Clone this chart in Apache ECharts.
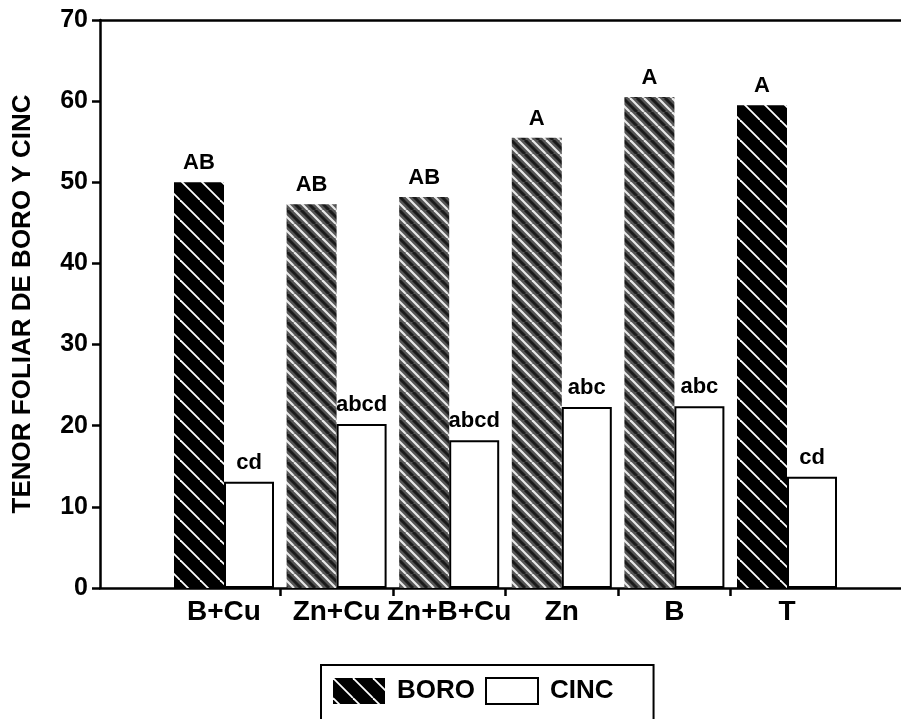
<!DOCTYPE html>
<html>
<head>
<meta charset="utf-8">
<script src="https://cdn.jsdelivr.net/npm/echarts@6/dist/echarts.min.js"></script>
<style>
  html, body { margin: 0; padding: 0; background: #fff; }
  #chart { width: 901px; height: 719px; }
</style>
</head>
<body>
<div id="chart"></div>
<script>
// ---- data ----
const categories   = ['B+Cu', 'Zn+Cu', 'Zn+B+Cu', 'Zn', 'B', 'T'];
const boro         = [50.0, 47.3, 48.2, 55.5, 60.5, 59.5];
const cinc         = [13.1, 20.2, 18.2, 22.3, 22.4, 13.7];
const boroLetters  = ['AB', 'AB', 'AB', 'A', 'A', 'A'];
const cincLetters  = ['cd', 'abcd', 'abcd', 'abc', 'abc', 'cd'];
const yMin = 0, yMax = 70, yStep = 10;
const seriesNames  = ['BORO', 'CINC'];

// ---- styling helpers ----
const FONT = '"Liberation Sans", Arial, sans-serif';
function hatch(bg, lines, p) {
  const c = document.createElement('canvas');
  c.width = p; c.height = p;
  const g = c.getContext('2d');
  g.fillStyle = bg; g.fillRect(0, 0, p, p);
  lines.forEach(function (l) {
    g.strokeStyle = l.color; g.lineWidth = l.width;
    [-p, 0, p].forEach(function (k) {
      g.beginPath();
      g.moveTo(k + l.off, 0);
      g.lineTo(k + l.off + p, p);
      g.stroke();
    });
  });
  return { image: c, repeat: 'repeat' };
}
const blackHatch = hatch('#000', [{ color: '#fff', width: 1.8, off: 0 }], 20);
const grayHatch  = hatch('#555555', [
  { color: '#e8e8e8', width: 2.2, off: 0 },
  { color: '#1a1a1a', width: 3, off: 7 }
], 14);
const grayBars = new Set([1, 2, 3, 4]);

const chart = echarts.init(document.getElementById('chart'), null, { renderer: 'canvas' });

// Band geometry of the bar grid (pixels)
const barLeft = 167.7, bandW = 112.6;
const frameLeft = 100, frameRight = 901;

const option = {
  backgroundColor: '#fff',
  animation: false,
  textStyle: { fontFamily: FONT },
  grid: [
    { left: frameLeft, right: 901 - frameRight, top: 20, bottom: 131 },
    { left: barLeft, right: 901 - (barLeft + bandW * categories.length), top: 20, bottom: 131 }
  ],
  xAxis: [
    { // frame bottom axis with tick marks between groups
      gridIndex: 0, type: 'value',
      min: (frameLeft - barLeft) / bandW,
      max: (frameRight - barLeft) / bandW,
      position: 'bottom',
      axisLine: { show: true, onZero: false, lineStyle: { color: '#000', width: 2.5 } },
      axisTick: { show: true, inside: false, length: 8, lineStyle: { color: '#000', width: 2.5 },
                  customValues: categories.slice(1).map(function (_, i) { return i + 1; }) },
      axisLabel: { show: false },
      splitLine: { show: false }
    },
    { // frame top line
      gridIndex: 0, type: 'value',
      min: 0, max: 1, position: 'top',
      axisLine: { show: true, onZero: false, lineStyle: { color: '#000', width: 2.5 } },
      axisTick: { show: false }, axisLabel: { show: false }, splitLine: { show: false }
    },
    { // categories
      gridIndex: 1, type: 'category', data: categories,
      axisLine: { show: false, onZero: false }, axisTick: { show: false },
      axisLabel: { color: '#000', fontSize: 28, fontWeight: 'bold', fontFamily: FONT, margin: 10, interval: 0 }
    }
  ],
  yAxis: [
    {
      gridIndex: 0, type: 'value', min: yMin, max: yMax, interval: yStep,
      position: 'left',
      name: 'TENOR FOLIAR DE BORO Y CINC',
      nameLocation: 'middle', nameRotate: 90, nameGap: 64,
      nameTextStyle: { color: '#000', fontSize: 26, fontWeight: 'bold', fontFamily: FONT },
      axisLine: { show: true, onZero: false, lineStyle: { color: '#000', width: 2.5 } },
      axisTick: { show: true, inside: false, length: 8, lineStyle: { color: '#000', width: 2.5 } },
      axisLabel: { color: '#000', fontSize: 25, fontWeight: 'bold', fontFamily: FONT, margin: 12 },
      splitLine: { show: false }
    },
    {
      gridIndex: 1, type: 'value', min: yMin, max: yMax, interval: yStep,
      axisLine: { show: false, onZero: false }, axisTick: { show: false }, axisLabel: { show: false }, splitLine: { show: false }
    }
  ],
  legend: {
    data: seriesNames,
    left: 321, top: 665,
    orient: 'horizontal',
    itemWidth: 52, itemHeight: 26, itemGap: 10,
    padding: [12, 40, 30, 12],
    borderColor: '#000', borderWidth: 2,
    icon: 'rect',
    textStyle: { color: '#000', fontSize: 26, fontWeight: 'bold', fontFamily: FONT, padding: [0, 0, 0, 7] }
  },
  series: [
    {
      name: seriesNames[0], type: 'bar', xAxisIndex: 2, yAxisIndex: 1,
      barWidth: 50, barGap: '0%',
      itemStyle: { color: blackHatch },
      data: boro.map(function (v, i) {
        return grayBars.has(i) ? { value: v, itemStyle: { color: grayHatch } } : { value: v };
      }),
      label: {
        show: true, position: 'top', distance: 8, color: '#000',
        fontSize: 22, fontWeight: 'bold', fontFamily: FONT,
        formatter: function (p) { return boroLetters[p.dataIndex]; }
      }
    },
    {
      name: seriesNames[1], type: 'bar', xAxisIndex: 2, yAxisIndex: 1,
      barWidth: 50, barGap: '0%',
      itemStyle: { color: '#fff', borderColor: '#000', borderWidth: 2 },
      data: cinc,
      label: {
        show: true, position: 'top', distance: 8, color: '#000',
        fontSize: 22, fontWeight: 'bold', fontFamily: FONT,
        formatter: function (p) { return cincLetters[p.dataIndex]; }
      }
    }
  ]
};
chart.setOption(option);
</script>
</body>
</html>
